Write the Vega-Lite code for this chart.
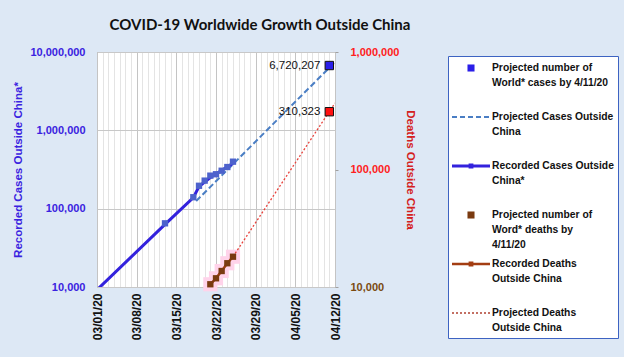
{
  "$schema": "https://vega.github.io/schema/vega-lite/v6.json",
  "width": 238,
  "height": 235,
  "autosize": {"type": "none"},
  "padding": {"left": 97, "top": 52, "right": 289, "bottom": 70},
  "background": "#dde8f5",
  "config": {
    "view": {"fill": "#ffffff", "stroke": "#a8a8a8"},
    "font": "Liberation Sans"
  },
  "title": {
    "text": "COVID-19 Worldwide Growth Outside China",
    "font": "Lato",
    "fontSize": 15,
    "fontWeight": "bold",
    "color": "#111111",
    "anchor": "middle",
    "frame": "group",
    "dx": 44,
    "offset": 13
  },
  "datasets": {
    "main": [
      {"s": "proj_cases_line", "date": "2020-03-18T12:00:00", "v": 125000},
      {"s": "proj_cases_line", "date": "2020-04-12T00:00:00", "v": 7450000},
      {"s": "cases_line", "date": "2020-03-01T00:00:00", "v": 9200},
      {"s": "cases_line", "date": "2020-03-13T00:00:00", "v": 63000},
      {"s": "cases_line", "date": "2020-03-18T00:00:00", "v": 138000},
      {"s": "cases_line", "date": "2020-03-19T00:00:00", "v": 192000},
      {"s": "cases_line", "date": "2020-03-21T00:00:00", "v": 250000},
      {"s": "cases_line", "date": "2020-03-25T00:00:00", "v": 380000},
      {"s": "cases_pts", "date": "2020-03-13T00:00:00", "v": 65000},
      {"s": "cases_pts", "date": "2020-03-18T00:00:00", "v": 140000},
      {"s": "cases_pts", "date": "2020-03-19T00:00:00", "v": 196000},
      {"s": "cases_pts", "date": "2020-03-20T00:00:00", "v": 228000},
      {"s": "cases_pts", "date": "2020-03-21T00:00:00", "v": 264000},
      {"s": "cases_pts", "date": "2020-03-22T00:00:00", "v": 275000},
      {"s": "cases_pts", "date": "2020-03-23T00:00:00", "v": 305000},
      {"s": "cases_pts", "date": "2020-03-24T00:00:00", "v": 340000},
      {"s": "cases_pts", "date": "2020-03-25T00:00:00", "v": 398000},
      {"s": "proj_cases_pt", "date": "2020-04-11T00:00:00", "v": 6720207},
      {"s": "deaths", "date": "2020-03-21T00:00:00", "v": 10550},
      {"s": "deaths", "date": "2020-03-22T00:00:00", "v": 11860},
      {"s": "deaths", "date": "2020-03-23T00:00:00", "v": 13680},
      {"s": "deaths", "date": "2020-03-24T00:00:00", "v": 15930},
      {"s": "deaths", "date": "2020-03-25T00:00:00", "v": 18100},
      {"s": "proj_deaths_line", "date": "2020-03-25T00:00:00", "v": 18100},
      {"s": "proj_deaths_line", "date": "2020-04-12T00:00:00", "v": 368000},
      {"s": "proj_deaths_pt", "date": "2020-04-11T00:00:00", "v": 310323}
    ],
    "legend": [
      {"series": "Projected number of\nWorld* cases by 4/11/20"},
      {"series": "Projected Cases Outside\nChina"},
      {"series": "Recorded Cases Outside\nChina*"},
      {"series": "Projected number of\nWord* deaths by\n4/11/20"},
      {"series": "Recorded Deaths\nOutside China"},
      {"series": "Projected Deaths\nOutside China"}
    ]
  },
  "encoding": {
    "x": {
      "field": "date",
      "type": "temporal",
      "scale": {"domain": [{"year": 2020, "month": 3, "date": 1}, {"year": 2020, "month": 4, "date": 12}]},
      "axis": {
        "title": null,
        "tickCount": {"interval": "day", "step": 1},
        "labelExpr": "round((datum.value - datetime(2020,2,1))/864e5) % 7 == 0 ? timeFormat(datum.value, '%m/%d/%y') : ''",
        "labelAngle": 270,
        "labelAlign": "right",
        "labelBaseline": "middle",
        "labelFont": "Liberation Sans",
        "labelFontSize": 12,
        "labelFontWeight": "bold",
        "labelColor": "#111111",
        "labelPadding": 6,
        "labelOverlap": false,
        "labelFlush": false,
        "labelBound": false,
        "ticks": false,
        "domain": false,
        "gridColor": {"condition": {"test": "round((datum.value - datetime(2020,2,1))/864e5) % 7 == 0", "value": "#c4c4c4"}, "value": "#e4e4e4"}
      }
    }
  },
  "layer": [
    {
      "data": {"name": "main"},
      "encoding": {
        "y": {
          "field": "v",
          "type": "quantitative",
          "scale": {"type": "log", "domain": [10000, 10000000]},
          "axis": {
            "orient": "left",
            "values": [10000, 100000, 1000000, 10000000],
            "format": ",d",
            "ticks": false,
            "domain": false,
            "gridColor": "#c8c8c8",
            "labelColor": "#3a22e0",
            "labelFont": "Liberation Sans",
            "labelFontWeight": "bold",
            "labelFontSize": 11,
            "labelPadding": 12,
            "title": "Recorded Cases Outside China*",
            "titleColor": "#3a22e0",
            "titleFont": "Liberation Sans",
            "titleFontSize": 11.5,
            "titleFontWeight": "bold",
            "titlePadding": 6
          }
        }
      },
      "layer": [
        {
          "transform": [{"filter": "datum.s == 'proj_cases_line'"}],
          "mark": {"type": "line", "color": "#4a7ec4", "strokeWidth": 2, "strokeDash": [6, 3], "clip": true}
        },
        {
          "transform": [{"filter": "datum.s == 'cases_line'"}],
          "mark": {"type": "line", "color": "#3322dd", "strokeWidth": 3, "clip": true}
        },
        {
          "transform": [{"filter": "datum.s == 'cases_pts'"}],
          "mark": {"type": "square", "size": 40, "color": "#4d62cc", "opacity": 1}
        },
        {
          "transform": [{"filter": "datum.s == 'proj_cases_pt'"}],
          "mark": {"type": "square", "size": 70, "color": "#2a1ee8", "stroke": "#111111", "strokeWidth": 1, "opacity": 1}
        },
        {
          "transform": [{"filter": "datum.s == 'proj_cases_pt'"}],
          "mark": {"type": "text", "align": "right", "dx": -9, "font": "Liberation Sans", "fontSize": 11.5, "color": "#111111"},
          "encoding": {"text": {"field": "v", "type": "quantitative", "format": ",d"}}
        }
      ]
    },
    {
      "data": {"name": "main"},
      "encoding": {
        "y": {
          "field": "v",
          "type": "quantitative",
          "scale": {"type": "log", "domain": [10000, 1000000]},
          "axis": {
            "orient": "right",
            "values": [10000, 100000, 1000000],
            "format": ",d",
            "grid": false,
            "domain": false,
            "tickSize": 3,
            "tickColor": "#a0a0a0",
            "labelColor": {"condition": {"test": "datum.value == 10000", "value": "#7a4a10"}, "value": "#ff2020"},
            "labelFont": "Liberation Sans",
            "labelFontWeight": "bold",
            "labelFontSize": 11,
            "labelPadding": 12,
            "title": "Deaths Outside China",
            "titleColor": "#d42020",
            "titleFont": "Liberation Sans",
            "titleFontSize": 11.5,
            "titleFontWeight": "bold",
            "titlePadding": 6
          }
        }
      },
      "layer": [
        {
          "transform": [{"filter": "datum.s == 'deaths'"}],
          "mark": {"type": "square", "size": 200, "color": "#ffd3ea", "opacity": 1}
        },
        {
          "transform": [{"filter": "datum.s == 'proj_deaths_line'"}],
          "mark": {"type": "line", "color": "#e8403a", "strokeWidth": 1.3, "strokeDash": [2, 2], "clip": true}
        },
        {
          "transform": [{"filter": "datum.s == 'deaths'"}],
          "mark": {"type": "line", "color": "#a33d12", "strokeWidth": 2.5, "clip": true}
        },
        {
          "transform": [{"filter": "datum.s == 'deaths'"}],
          "mark": {"type": "square", "size": 40, "color": "#7a3a10", "opacity": 1}
        },
        {
          "transform": [{"filter": "datum.s == 'proj_deaths_pt'"}],
          "mark": {"type": "square", "size": 70, "color": "#ff1010", "stroke": "#111111", "strokeWidth": 1, "opacity": 1}
        },
        {
          "transform": [{"filter": "datum.s == 'proj_deaths_pt'"}],
          "mark": {"type": "text", "align": "right", "dx": -9, "font": "Liberation Sans", "fontSize": 11.5, "color": "#111111"},
          "encoding": {"text": {"field": "v", "type": "quantitative", "format": ",d"}}
        }
      ]
    },
    {
      "data": {"name": "legend"},
      "transform": [{"filter": "false"}],
      "mark": {"type": "point", "filled": true, "opacity": 1, "size": 256, "strokeWidth": 0},
      "encoding": {
        "color": {
          "field": "series",
          "type": "nominal",
          "scale": {
            "domain": [
              "Projected number of\nWorld* cases by 4/11/20",
              "Projected Cases Outside\nChina",
              "Recorded Cases Outside\nChina*",
              "Projected number of\nWord* deaths by\n4/11/20",
              "Recorded Deaths\nOutside China",
              "Projected Deaths\nOutside China"
            ],
            "range": ["#2a1ee8", "#4a7ec4", "#3322dd", "#7a3a10", "#a33d12", "#b04030"]
          },
          "legend": {
            "orient": "none",
            "legendX": 351,
            "legendY": 4,
            "title": null,
            "fillColor": "#ffffff",
            "strokeColor": "#3d63c2",
            "padding": 4,
            "rowPadding": 5,
            "gridAlign": "all",
            "symbolSize": 256,
            "symbolOffset": 11,
            "symbolStrokeWidth": 0,
            "symbolOpacity": 1,
            "labelFont": "Liberation Sans",
            "labelFontSize": 10.3,
            "labelFontWeight": "bold",
            "labelColor": "#111111",
            "labelLimit": 200,
            "labelOffset": 13,
            "labelExpr": "split(datum.label, '\\n')",
            "encode": {"labels": {"update": {"lineHeight": {"value": 15}}}}
          }
        },
        "shape": {
          "field": "series",
          "type": "nominal",
          "scale": {
            "domain": [
              "Projected number of\nWorld* cases by 4/11/20",
              "Projected Cases Outside\nChina",
              "Recorded Cases Outside\nChina*",
              "Projected number of\nWord* deaths by\n4/11/20",
              "Recorded Deaths\nOutside China",
              "Projected Deaths\nOutside China"
            ],
            "range": [
              "M-0.44,-0.44H0.44V0.44H-0.44Z",
              "M-2.375,-0.125H-1.75V0.125H-2.375Z M-1.375,-0.125H-0.75V0.125H-1.375Z M-0.375,-0.125H0.25V0.125H-0.375Z M0.625,-0.125H1.25V0.125H0.625Z M1.625,-0.125H2.25V0.125H1.625Z",
              "M-2.375,-0.19H2.375V0.19H-2.375Z M-0.3,-0.3H0.3V0.3H-0.3Z",
              "M-0.44,-0.44H0.44V0.44H-0.44Z",
              "M-2.375,-0.156H2.375V0.156H-2.375Z M-0.3,-0.3H0.3V0.3H-0.3Z",
              "M-2.375,-0.08H-2.125V0.08H-2.375Z M-1.875,-0.08H-1.625V0.08H-1.875Z M-1.375,-0.08H-1.125V0.08H-1.375Z M-0.875,-0.08H-0.625V0.08H-0.875Z M-0.375,-0.08H-0.125V0.08H-0.375Z M0.125,-0.08H0.375V0.08H0.125Z M0.625,-0.08H0.875V0.08H0.625Z M1.125,-0.08H1.375V0.08H1.125Z M1.625,-0.08H1.875V0.08H1.625Z M2.125,-0.08H2.375V0.08H2.125Z"
            ]
          },
          "legend": {
            "orient": "none",
            "legendX": 351,
            "legendY": 4,
            "title": null,
            "fillColor": "#ffffff",
            "strokeColor": "#3d63c2",
            "padding": 4,
            "rowPadding": 5,
            "gridAlign": "all",
            "symbolSize": 256,
            "symbolOffset": 11,
            "symbolStrokeWidth": 0,
            "symbolOpacity": 1,
            "labelFont": "Liberation Sans",
            "labelFontSize": 10.3,
            "labelFontWeight": "bold",
            "labelColor": "#111111",
            "labelLimit": 200,
            "labelOffset": 13,
            "labelExpr": "split(datum.label, '\\n')",
            "encode": {"labels": {"update": {"lineHeight": {"value": 15}}}}
          }
        }
      }
    }
  ],
  "resolve": {"scale": {"y": "independent"}}
}
